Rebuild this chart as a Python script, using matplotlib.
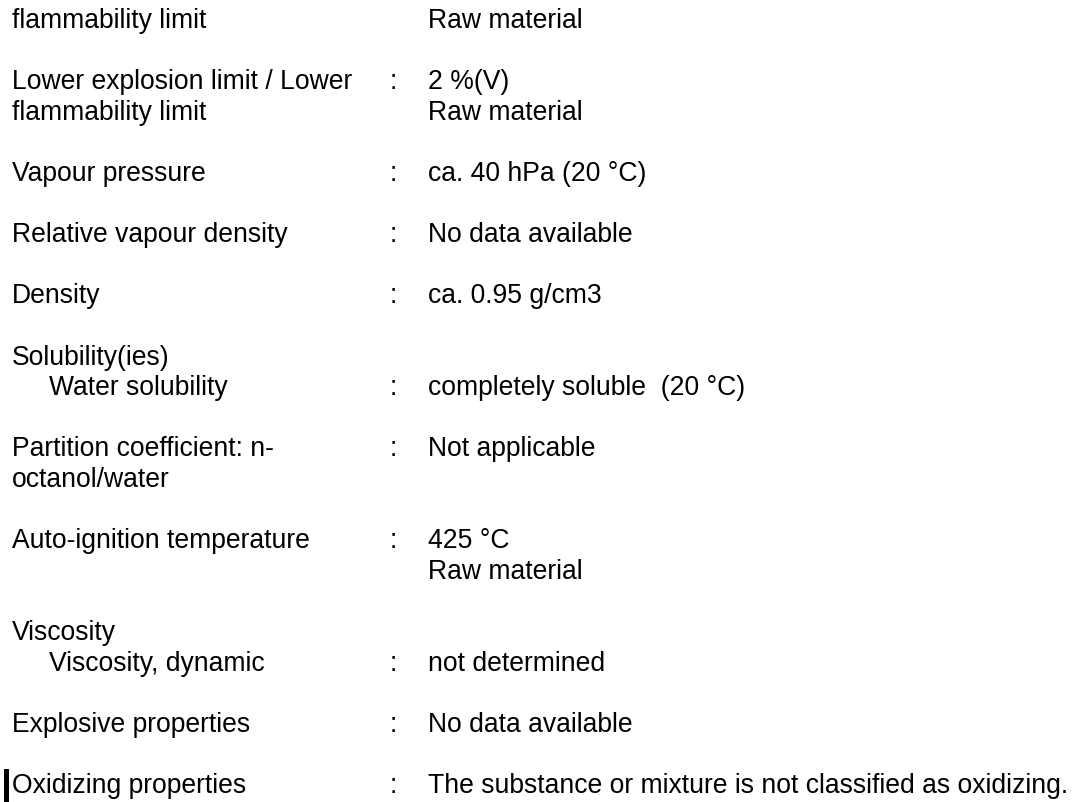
import matplotlib.pyplot as plt
from matplotlib.patches import Rectangle

# one entry per property block, one string per printed line
labels = [
    ["flammability limit"],
    ["Lower explosion limit / Lower", "flammability limit"],
    ["Vapour pressure"],
    ["Relative vapour density"],
    ["Density"],
    ["Solubility(ies)", "Water solubility"],
    ["Partition coefficient: n-", "octanol/water"],
    ["Auto-ignition temperature", ""],
    ["Viscosity", "Viscosity, dynamic"],
    ["Explosive properties"],
    ["Oxidizing properties"],
]
values = [
    ["Raw material"],
    ["2 %(V)", "Raw material"],
    ["ca. 40 hPa (20 °C)"],
    ["No data available"],
    ["ca. 0.95 g/cm3"],
    ["", "completely soluble  (20 °C)"],
    ["Not applicable", ""],
    ["425 °C", "Raw material"],
    ["", "not determined"],
    ["No data available"],
    ["The substance or mixture is not classified as oxidizing."],
]
# which line of the block carries the ':' (None = no colon)
colon_line = [None, 0, 0, 0, 0, 1, 0, 0, 1, 0, 0]
# sub-items indented under a heading
indented = [False, False, False, False, False, True, False, False, True, False, False]

W, H = 1073, 803
x_label, x_indent, x_colon, x_value = 12, 49, 390, 428
y_first = 28
pitch = 30.6   # one text line; blocks are separated by an empty line
fs = 19.1

plt.rcParams["font.family"] = ["Liberation Sans", "DejaVu Sans"]
fig = plt.figure(figsize=(W / 100, H / 100), dpi=100)
ax = fig.add_axes([0, 0, 1, 1])
ax.set_xlim(0, W)
ax.set_ylim(H, 0)
ax.axis("off")

line = 0
for i in range(len(labels)):
    for j, (lab, val) in enumerate(zip(labels[i], values[i])):
        yy = y_first + line * pitch
        lx = x_indent if (indented[i] and j == 1) else x_label
        if lab:
            ax.text(lx, yy, lab, fontsize=fs, va="baseline", ha="left")
        if colon_line[i] == j:
            ax.text(x_colon, yy, ":", fontsize=fs, va="baseline", ha="left")
        if val:
            ax.text(x_value, yy, val, fontsize=fs, va="baseline", ha="left")
        line += 1
    line += 1  # blank line between blocks

# revision bar beside the last entry
ax.add_patch(Rectangle((4, yy - 23), 5, 40, color="black", lw=0))

fig.savefig("out.png", dpi=100)
